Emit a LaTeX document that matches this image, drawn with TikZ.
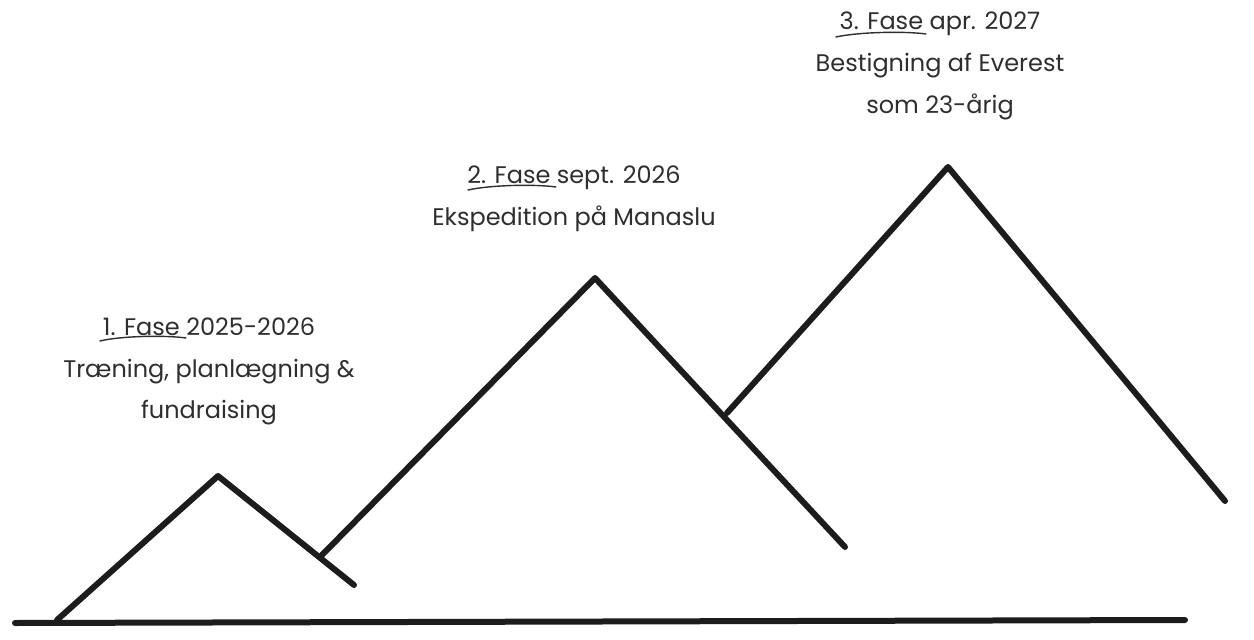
\documentclass[tikz,border=0pt]{standalone}
\usepackage{fontspec}
\setmainfont{Poppins}
\definecolor{ink}{HTML}{1C1C1C}
\definecolor{txt}{HTML}{2E2E2E}
\begin{document}
\begin{tikzpicture}[x=1pt,y=-1pt,
  ridge/.style={draw=ink,line width=6pt,line cap=round,line join=round},
  lbl/.style={text=txt,align=center,font=\fontsize{24}{42}\selectfont,inner sep=0pt},
  uline/.style={draw=txt,line width=1.4pt,line cap=round}]
\useasboundingbox (0,0) rectangle (1254,640);
% ground
\coordinate (g1) at (15,623);
\coordinate (g2) at (1185,620);
\draw[ridge] (g1) -- (g2);
% mountain 1
\coordinate (m1a) at (57,620);
\coordinate (m1p) at (218,476);
\coordinate (m1b) at (354,585);
\draw[ridge] (m1a) -- (m1p) -- (m1b);
% mountain 2
\coordinate (m2a) at (321,556);
\coordinate (m2p) at (595,278);
\coordinate (m2b) at (845,547);
\draw[ridge] (m2a) -- (m2p) -- (m2b);
% mountain 3
\coordinate (m3a) at (727,413);
\coordinate (m3p) at (948,167);
\coordinate (m3b) at (1225,501);
\draw[ridge] (m3a) -- (m3p) -- (m3b);
% labels
\node[lbl,anchor=base] (l1a) at (209,335) {1. Fase 2025-2026};
\node[lbl,anchor=base] (l1b) at (209,377) {Træning, planlægning \&};
\node[lbl,anchor=base] (l1c) at (209,418) {fundraising};
\node[lbl,anchor=base] (l2a) at (574,183) {2. Fase sept. 2026};
\node[lbl,anchor=base] (l2b) at (574,225) {Ekspedition på Manaslu};
\node[lbl,anchor=base] (l3a) at (940,29) {3. Fase apr. 2027};
\node[lbl,anchor=base] (l3b) at (940,71) {Bestigning af Everest};
\node[lbl,anchor=base] (l3c) at (940,113) {som 23-årig};
% hand-drawn underlines
\draw[uline] (100,341) .. controls (120,336) and (165,335) .. (186,338);
\draw[uline] (468,190) .. controls (490,185) and (535,184) .. (556,187);
\draw[uline] (836,37) .. controls (858,32) and (905,31) .. (926,34);
\end{tikzpicture}
\end{document}
